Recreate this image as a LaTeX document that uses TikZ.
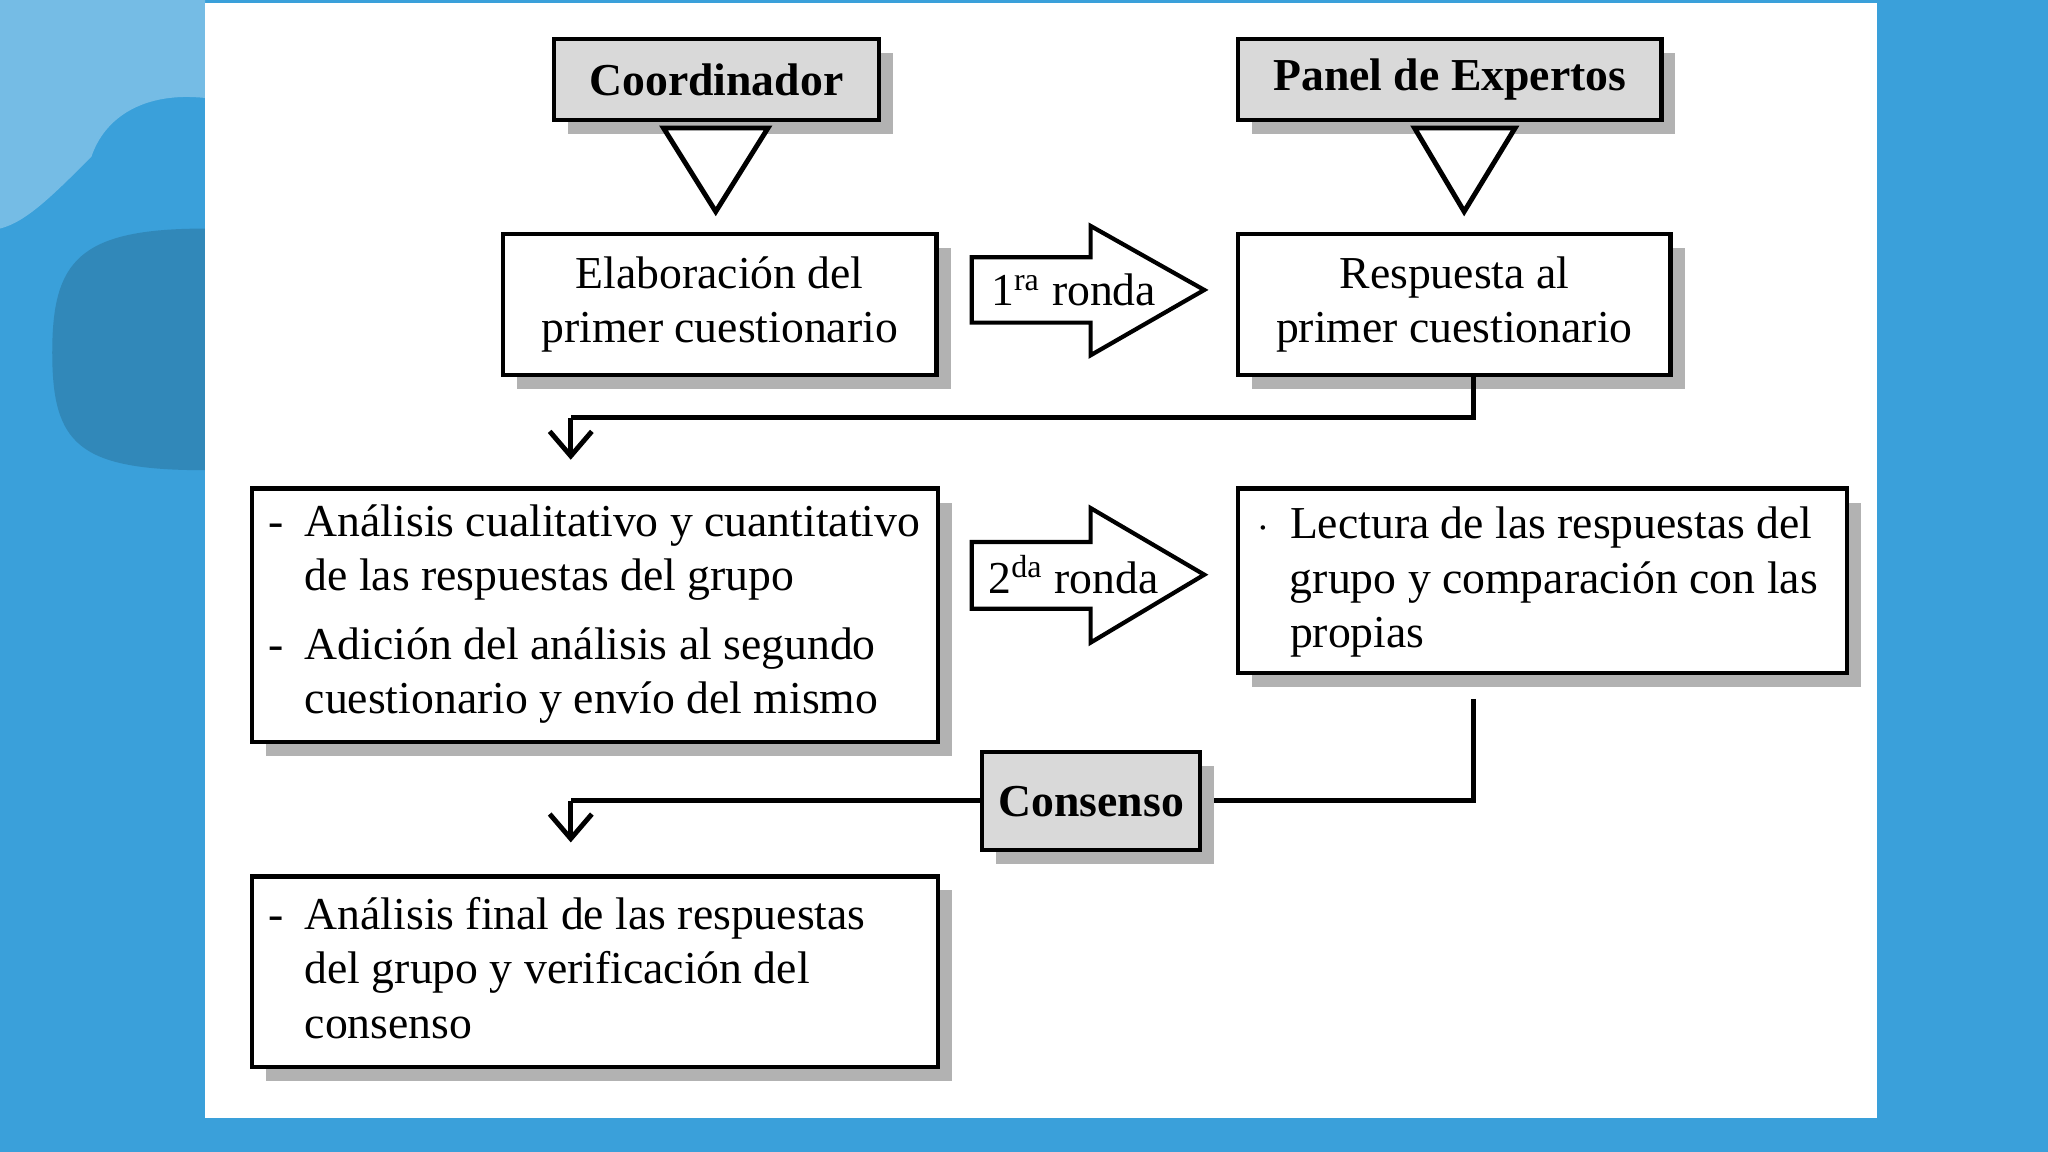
\documentclass[tikz,border=0pt]{standalone}
\usepackage{fontspec}
\setmainfont{Liberation Serif}
\usetikzlibrary{shadows,fit,arrows.meta}
\definecolor{bgblue}{HTML}{3AA0DA}
\definecolor{boxgray}{HTML}{D9D9D9}
\tikzset{
 box/.style={draw=black, line width=1.2pt, fill=white, inner sep=0pt,
   drop shadow={shadow xshift=4pt, shadow yshift=-4pt, fill=gray!60, opacity=1}},
 graybox/.style={box, fill=boxgray},
 txt/.style={font=\fontsize{13}{15.5}\selectfont, align=center, inner sep=0pt},
 conn/.style={line width=1.4pt},
 arr/.style={conn, -{Straight Barb[length=7pt,width=12pt]}},
 blockarrow/.style={draw=black, line width=1.2pt, fill=white, line join=miter}
}
\begin{document}
\begin{tikzpicture}[x=0.013061cm,y=-0.013061cm]
\useasboundingbox (0,0) rectangle (1568,882);
\fill[bgblue] (0,0) rectangle (1568,882);
\fill[bgblue!70!white] (0,0) -- (157,0) -- (157,75) .. controls (110,70) and (80,90) .. (70,120) .. controls (40,150) and (20,170) .. (0,175) -- cycle;
\fill[bgblue!85!black] (157,175) .. controls (60,175) and (40,200) .. (40,270) .. controls (40,340) and (60,360) .. (157,360) -- cycle;
\fill[white] (157,2) rectangle (1437,856);

% top boxes
\path (424,30) coordinate (c1) (673,92) coordinate (c2);
\node[graybox, fit=(c1)(c2)] (coord) {};
\node[txt] at (coord.center) {\textbf{Coordinador}};
\path (948,30) coordinate (p1) (1272,92) coordinate (p2);
\node[graybox, fit=(p1)(p2)] (panel) {};
\node[txt] at (panel.center) {\textbf{Panel de Expertos}};

% triangles
\draw[line width=1.4pt, fill=white, line join=miter] (508,98) -- (588,98) -- (548,162) -- cycle;
\draw[line width=1.4pt, fill=white, line join=miter] (1083,98) -- (1160,98) -- (1121,162) -- cycle;

% row 1
\path (385,179) coordinate (e1) (717,287) coordinate (e2);
\node[box, fit=(e1)(e2)] (elab) {};
\node[txt] at (elab.center) {Elaboración del\\primer cuestionario};
\path (948,179) coordinate (r1) (1279,287) coordinate (r2);
\node[box, fit=(r1)(r2)] (resp) {};
\node[txt] at (resp.center) {Respuesta al\\primer cuestionario};
\draw[blockarrow] (744,197) -- (835,197) -- (835,173) -- (922,222) -- (835,272) -- (835,247) -- (744,247) -- cycle;
\node[txt] (r1lab) at (822,222) {1\textsuperscript{ra} ronda};

% connector 1
\coordinate (k1) at (1128,320);
\coordinate (k2) at (437,320);
\draw[conn] (1128,287) -- (k1) -- (k2);
\draw[arr] (k2) -- (437,352);

% row 2
\path (193,374) coordinate (a1) (718,568) coordinate (a2);
\node[box, fit=(a1)(a2)] (anal) {};
\node[txt, anchor=west, align=left] at (205,470) {\begin{tabular}{@{}l@{\hspace{6pt}}l@{}}
- & Análisis cualitativo y cuantitativo\\
  & de las respuestas del grupo\\[4pt]
- & Adición del análisis al segundo\\
  & cuestionario y envío del mismo
\end{tabular}};
\draw[blockarrow] (744,415) -- (835,415) -- (835,389) -- (922,440) -- (835,492) -- (835,466) -- (744,466) -- cycle;
\node[txt] (r2lab) at (822,440) {2\textsuperscript{da} ronda};
\path (948,374) coordinate (l1) (1414,515) coordinate (l2);
\node[box, fit=(l1)(l2)] (lect) {};
\node[txt, anchor=west, align=left] at (962,446) {\begin{tabular}{@{}l@{\hspace{6pt}}l@{}}
$\cdot$ & Lectura de las respuestas del\\
  & grupo y comparación con las\\
  & propias
\end{tabular}};

% connector 2
\coordinate (m1) at (1128,613);
\coordinate (m2) at (437,613);
\draw[conn] (1128,535) -- (m1) -- (m2);
\draw[arr] (m2) -- (437,645);
\path (752,576) coordinate (s1) (919,651) coordinate (s2);
\node[graybox, fit=(s1)(s2)] (cons) {};
\node[txt] at (cons.center) {\textbf{Consenso}};

% final
\path (193,671) coordinate (f1) (718,817) coordinate (f2);
\node[box, fit=(f1)(f2)] (fin) {};
\node[txt, anchor=west, align=left] at (205,745) {\begin{tabular}{@{}l@{\hspace{6pt}}l@{}}
- & Análisis final de las respuestas\\
  & del grupo y verificación del\\
  & consenso
\end{tabular}};
\end{tikzpicture}
\end{document}
